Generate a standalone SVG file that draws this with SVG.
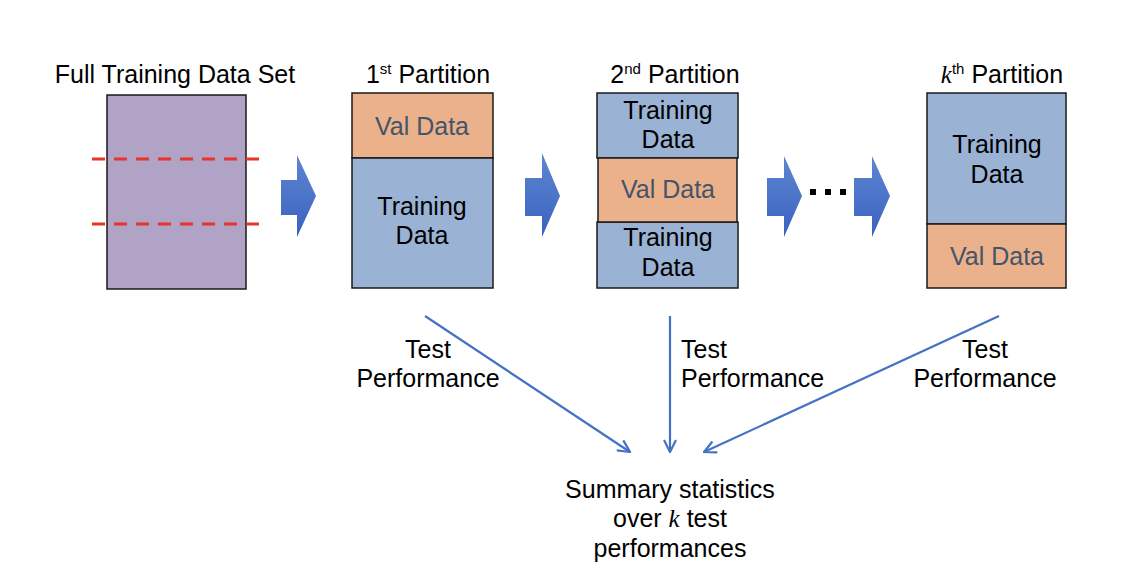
<svg xmlns="http://www.w3.org/2000/svg" width="1124" height="584" viewBox="0 0 1124 584">
<style>
.t{font-family:"Liberation Sans",Arial,Helvetica,sans-serif;font-size:25px;fill:#000;text-anchor:middle}
.v{fill:#44546a}
.l{text-anchor:start}
.box{stroke:#1a1a1a;stroke-width:1.5}
.trn{fill:#9ab3d5}
.val{fill:#ebb18a}
.con{stroke:#4472c4;stroke-width:2.2;fill:none}
.blk{fill:url(#bg)}
.sup{font-size:15px}
.m{font-family:"Liberation Serif","Times New Roman",serif;font-style:italic}
</style>
<defs>
<linearGradient id="bg" x1="0" y1="0" x2="0" y2="1">
<stop offset="0" stop-color="#5e86d2"/>
<stop offset="1" stop-color="#3a62bf"/>
</linearGradient>
<marker id="ah" viewBox="0 0 14 14" refX="13" refY="7" markerWidth="14" markerHeight="14" markerUnits="userSpaceOnUse" orient="auto">
<path d="M1,1 L13,7 L1,13" fill="none" stroke="#4472c4" stroke-width="2.2"/>
</marker>
</defs>

<g id="full">
<text class="t" x="175" y="83">Full Training Data Set</text>
<rect class="box" x="107" y="95" width="139" height="194" fill="#b1a3c5"/>
<line x1="92" y1="159" x2="262" y2="159" stroke="#e8352b" stroke-width="3" stroke-dasharray="13,9"/>
<line x1="92" y1="224" x2="262" y2="224" stroke="#e8352b" stroke-width="3" stroke-dasharray="13,9"/>
</g>

<g id="p1">
<text class="t" x="428" y="83">1<tspan class="sup" dy="-9">st</tspan><tspan dy="9"> Partition</tspan></text>
<rect class="box val" x="352" y="93" width="141" height="65"/>
<rect class="box trn" x="352" y="158" width="141" height="130"/>
<text class="t v" x="422" y="135">Val Data</text>
<text class="t" x="422" y="215">Training</text>
<text class="t" x="422" y="244">Data</text>
</g>

<g id="p2">
<text class="t" x="675" y="83">2<tspan class="sup" dy="-9">nd</tspan><tspan dy="9"> Partition</tspan></text>
<rect class="box trn" x="597" y="93" width="141" height="65"/>
<rect class="box trn" x="597" y="222" width="141" height="66"/>
<rect class="box val" x="598" y="158" width="139" height="64" stroke-width="2"/>
<text class="t" x="668" y="119">Training</text>
<text class="t" x="668" y="148">Data</text>
<text class="t v" x="668" y="198">Val Data</text>
<text class="t" x="668" y="246">Training</text>
<text class="t" x="668" y="276">Data</text>
</g>

<g id="pk">
<text class="t" x="1002" y="83"><tspan class="m">k</tspan><tspan class="sup" dy="-9">th</tspan><tspan dy="9"> Partition</tspan></text>
<rect class="box trn" x="927" y="93" width="139" height="131"/>
<rect class="box val" x="927" y="224" width="139" height="64"/>
<text class="t" x="997" y="153">Training</text>
<text class="t" x="997" y="183">Data</text>
<text class="t v" x="997" y="265">Val Data</text>
</g>

<g id="blockarrows">
<path class="blk" d="M281,180 L297,180 L297,155 L316,196 L297,237 L297,215 L281,215 Z"/>
<path class="blk" d="M525,178 L542,178 L542,153 L560,196 L542,237 L542,216 L525,216 Z"/>
<path class="blk" d="M767,178 L784,178 L784,156 L802,196 L784,237 L784,216 L767,216 Z"/>
<path class="blk" d="M854,178 L872,178 L872,156 L890,196 L872,237 L872,216 L854,216 Z"/>
</g>

<g id="ellipsis">
<rect x="810" y="189" width="6" height="6" fill="#000"/>
<rect x="825" y="189" width="6" height="6" fill="#000"/>
<rect x="840" y="189" width="6" height="6" fill="#000"/>
</g>

<g id="connectors">
<line class="con" x1="425" y1="316" x2="630" y2="452" marker-end="url(#ah)"/>
<line class="con" x1="670" y1="316" x2="670" y2="452" marker-end="url(#ah)"/>
<line class="con" x1="999" y1="316" x2="704" y2="452" marker-end="url(#ah)"/>
</g>

<g id="labels">
<text class="t" x="428" y="358">Test</text>
<text class="t" x="428" y="387">Performance</text>
<text class="t l" x="681" y="358">Test</text>
<text class="t l" x="681" y="387">Performance</text>
<text class="t" x="985" y="358">Test</text>
<text class="t" x="985" y="387">Performance</text>
</g>

<g id="summary">
<text class="t" x="670" y="498">Summary statistics</text>
<text class="t" x="670" y="527">over <tspan class="m">k</tspan> test</text>
<text class="t" x="670" y="557">performances</text>
</g>
</svg>
